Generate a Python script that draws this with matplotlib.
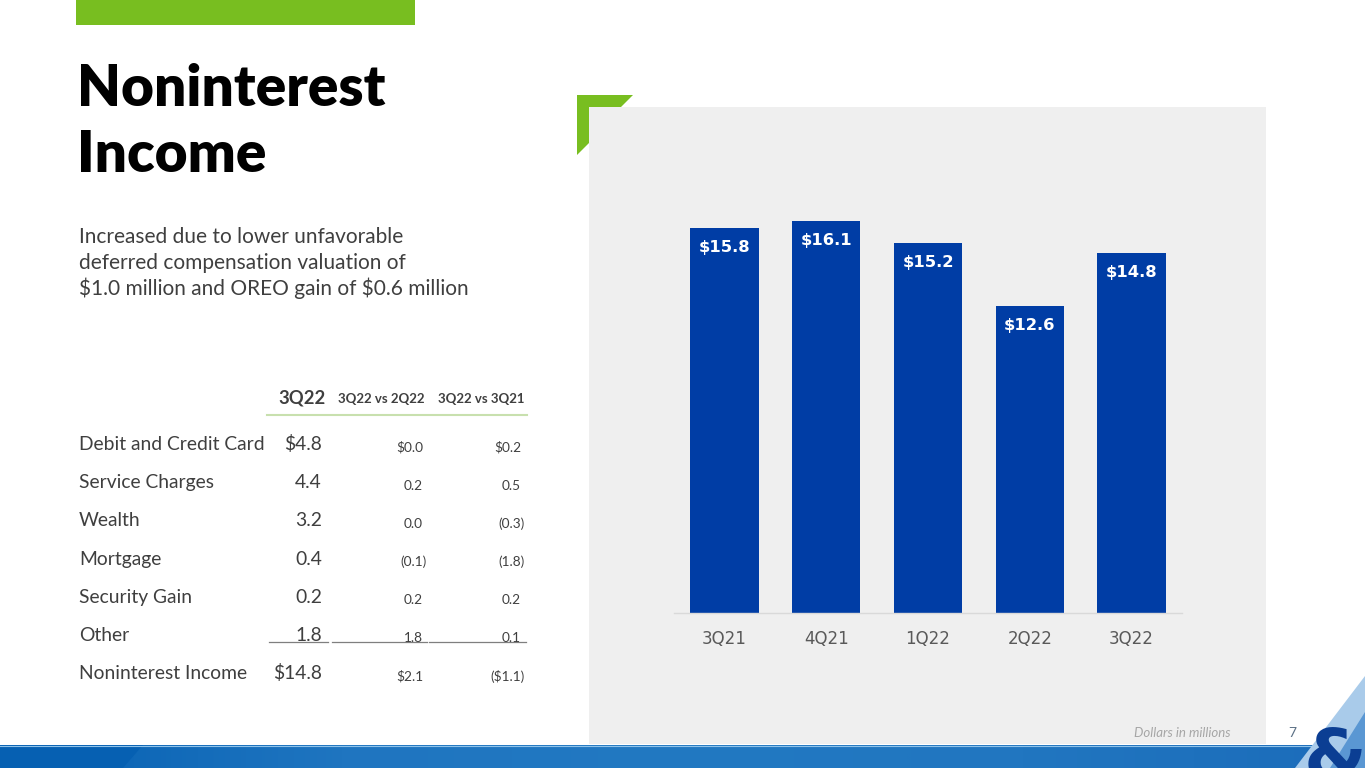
import matplotlib
matplotlib.use("Agg")
import matplotlib.pyplot as plt
import numpy as np
from matplotlib.patches import Polygon, Rectangle

plt.rcParams["text.parse_math"] = False

# ---------------- data ----------------
quarters = ["3Q21", "4Q21", "1Q22", "2Q22", "3Q22"]
income = [15.8, 16.1, 15.2, 12.6, 14.8]
bar_labels = ["$15.8", "$16.1", "$15.2", "$12.6", "$14.8"]

table_headers = ["3Q22", "3Q22 vs 2Q22", "3Q22 vs 3Q21"]
row_names = ["Debit and Credit Card", "Service Charges", "Wealth", "Mortgage",
             "Security Gain", "Other", "Noninterest Income"]
col_3q22 = ["$4.8", "4.4", "3.2", "0.4", "0.2", "1.8", "$14.8"]
col_vs_2q22 = ["$0.0", "0.2", "0.0", "(0.1)", "0.2", "1.8", "$2.1"]
col_vs_3q21 = ["$0.2", "0.5", "(0.3)", "(1.8)", "0.2", "0.1", "($1.1)"]

title_lines = ["Noninterest", "Income"]
subtitle_lines = ["Increased due to lower unfavorable",
                  "deferred compensation valuation of",
                  "$1.0 million and OREO gain of $0.6 million"]
footnote = "Dollars in millions"
page_no = "7"

# ---------------- figure ----------------
W, H = 1365, 768
fig = plt.figure(figsize=(W / 100, H / 100), dpi=100)
fig.patch.set_facecolor("white")

bg = fig.add_axes([0, 0, 1, 1])
bg.set_xlim(0, W)
bg.set_ylim(H, 0)
bg.axis("off")

GREEN = "#78BE20"
BLUE = "#003DA5"
TXT = "#3f3f3f"

# top green bar
bg.add_patch(Rectangle((76, 0), 339, 25, color=GREEN, lw=0))

# green corner + gray panel
bg.add_patch(Polygon([(577, 95), (633, 95), (621, 107), (589, 107), (589, 143), (577, 155)],
                     closed=True, color=GREEN, lw=0))
bg.add_patch(Rectangle((589, 107), 677, 637, color="#EFEFEF", lw=0))

# bottom band
grad = np.linspace(0, 1, 600)
cmap = matplotlib.colors.LinearSegmentedColormap.from_list(
    "band", ["#0560B2", "#1F75C0", "#2279C2", "#2176C0", "#1B6CBA"])
bg.imshow(grad[None, :], extent=(0, W, 768, 745), aspect="auto", cmap=cmap, zorder=1)
bg.add_patch(Polygon([(0, 745), (143, 745), (123, 768), (0, 768)], closed=True,
                     color="#0660B2", lw=0, zorder=2))
bg.plot([0, W], [745.5, 745.5], color="#8FC3EA", lw=0.8, zorder=3)
# right corner light swoosh
bg.add_patch(Polygon([(1295, 768), (1365, 676), (1365, 768)], closed=True,
                     color="#A9CBEA", lw=0, zorder=3))
bg.add_patch(Polygon([(1330, 768), (1365, 712), (1365, 768)], closed=True,
                     color="#5A97D3", lw=0, zorder=3))
bg.text(1335, 780, "&", fontsize=52, fontweight="bold", color="#0B3E93",
        ha="center", va="baseline", family="DejaVu Sans", zorder=4, clip_on=True)

# title & subtitle
for i, line in enumerate(title_lines):
    bg.text(77, 106 + 66 * i, line, fontsize=40.8, fontweight="heavy", color="black",
            family="Lato", va="baseline", ha="left")
for i, line in enumerate(subtitle_lines):
    bg.text(79, 243 + 26 * i, line, fontsize=15.0, color=TXT, family="Lato",
            va="baseline", ha="left")

# table
hdr_y = 403
bg.text(326, hdr_y, table_headers[0], fontsize=13.3, fontweight="bold", color=TXT,
        family="Lato", ha="right", va="baseline")
bg.text(425, hdr_y, table_headers[1], fontsize=9.5, fontweight="bold", color=TXT,
        family="Lato", ha="right", va="baseline")
bg.text(525, hdr_y, table_headers[2], fontsize=9.5, fontweight="bold", color=TXT,
        family="Lato", ha="right", va="baseline")
bg.plot([267, 527], [415, 415], color="#C8E0AE", lw=1.5)

row_y0, row_dy = 450, 38.2
for i, name in enumerate(row_names):
    y = row_y0 + row_dy * i
    bg.text(79, y, name, fontsize=13.9, color=TXT, family="Lato", ha="left", va="baseline")
    bg.text(322, y, col_3q22[i], fontsize=13.9, color=TXT, family="Lato", ha="right", va="baseline")
    for vals, xr in ((col_vs_2q22, 423), (col_vs_3q21, 521)):
        s = vals[i]
        x = xr + (4 if s.endswith(")") else 0)
        bg.text(x, y + 1.5, s, fontsize=9.8, color=TXT, family="Lato", ha="right", va="baseline")
# underline "Other" row
uy = 642
for x0, x1 in ((269, 328), (332, 427), (429, 526)):
    bg.plot([x0, x1], [uy, uy], color="#7f7f7f", lw=0.9)

# footnote and page
bg.text(1230, 737, footnote, fontsize=9.5, style="italic", color="#A6A6A6",
        family="Lato", ha="right", va="baseline")
bg.text(1292, 737, page_no, fontsize=10, color="#5B7085", family="Lato",
        ha="center", va="baseline", zorder=5)

# ---------------- bar chart ----------------
px_per_unit = 24.35
ymax = 17.0
base_y = 613
left, right = 673.6, 1182.4
top_y = base_y - ymax * px_per_unit
ax = fig.add_axes([left / W, 1 - base_y / H, (right - left) / W, (base_y - top_y) / H])
ax.set_facecolor("none")
x = np.arange(len(quarters))
ax.bar(x, income, width=0.67, color=BLUE, zorder=2)
ax.set_xlim(-0.5, len(quarters) - 0.5)
ax.set_ylim(0, ymax)
for s in ("top", "right", "left"):
    ax.spines[s].set_visible(False)
ax.spines["bottom"].set_color("#D9D9D9")
ax.spines["bottom"].set_linewidth(1.0)
ax.set_yticks([])
ax.set_xticks(x)
ax.set_xticklabels(quarters, fontsize=12, color="#595959", family="DejaVu Sans")
ax.tick_params(axis="x", length=0, pad=12)
for xi, v, lab in zip(x, income, bar_labels):
    ax.annotate(lab, xy=(xi, v), xytext=(0, -14), textcoords="offset points",
                ha="center", va="center", color="white", fontsize=11.8,
                fontweight="bold", family="DejaVu Sans")

fig.savefig("out.png", dpi=100)
